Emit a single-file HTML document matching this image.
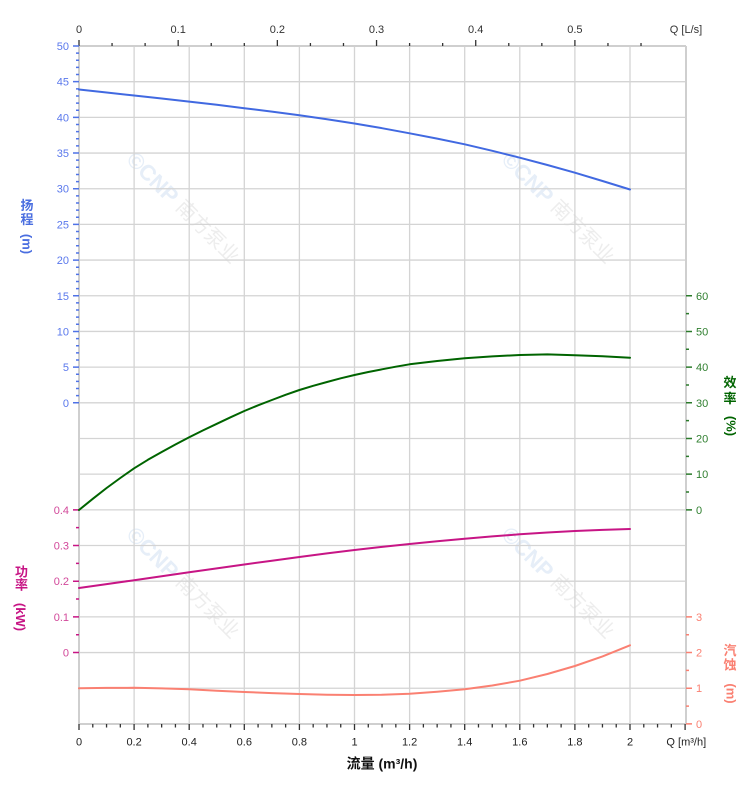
<!DOCTYPE html>
<html>
<head>
<meta charset="utf-8">
<style>
html,body{margin:0;padding:0;background:#fff;}
svg{display:block;}
text{font-family:"Liberation Sans","Noto Sans CJK SC",sans-serif;}
</style>
</head>
<body>
<svg width="752" height="797" viewBox="0 0 752 797" xmlns="http://www.w3.org/2000/svg">
<rect x="0" y="0" width="752" height="797" fill="#fff"/>

<!-- watermarks -->
<g>
<g transform="translate(183,208) rotate(45)"><text x="0" y="0" text-anchor="middle" dominant-baseline="central" font-size="22" font-weight="bold" fill="#e6eef8">©CNP <tspan fill="#ededed" font-weight="normal" font-size="20">南方泵业</tspan></text></g>
<g transform="translate(558,208) rotate(45)"><text x="0" y="0" text-anchor="middle" dominant-baseline="central" font-size="22" font-weight="bold" fill="#e6eef8">©CNP <tspan fill="#ededed" font-weight="normal" font-size="20">南方泵业</tspan></text></g>
<g transform="translate(183,583) rotate(45)"><text x="0" y="0" text-anchor="middle" dominant-baseline="central" font-size="22" font-weight="bold" fill="#e6eef8">©CNP <tspan fill="#ededed" font-weight="normal" font-size="20">南方泵业</tspan></text></g>
<g transform="translate(558,583) rotate(45)"><text x="0" y="0" text-anchor="middle" dominant-baseline="central" font-size="22" font-weight="bold" fill="#e6eef8">©CNP <tspan fill="#ededed" font-weight="normal" font-size="20">南方泵业</tspan></text></g>
</g>

<!-- grid -->
<g stroke="#d4d4d4" stroke-width="1.3" fill="none">
<path d="M79 81.68H686M79 117.36H686M79 153.04H686M79 188.72H686M79 224.4H686M79 260.08H686M79 295.76H686M79 331.44H686M79 367.12H686M79 402.8H686M79 438.48H686M79 474.16H686M79 509.84H686M79 545.52H686M79 581.2H686M79 616.88H686M79 652.56H686M79 688.24H686"/>
<path d="M134.1 46V724M189.2 46V724M244.3 46V724M299.4 46V724M354.5 46V724M409.6 46V724M464.7 46V724M519.8 46V724M574.9 46V724M630 46V724"/>
</g>
<!-- frame -->
<g stroke="#cfcfcf" stroke-width="2" fill="none">
<path d="M79 46H686M79 724H686M79 46V724M686 46V724"/>
</g>

<!-- top axis ticks -->
<g stroke="#333" stroke-width="1.3" fill="none">
<path d="M79 40V46M178.18 40V46M277.36 40V46M376.54 40V46M475.72 40V46M574.9 40V46"/>
<path d="M112.06 43V46M145.12 43V46M211.24 43V46M244.3 43V46M310.42 43V46M343.48 43V46M409.6 43V46M442.66 43V46M508.78 43V46M541.84 43V46M607.96 43V46M641.02 43V46"/>
</g>
<!-- bottom axis ticks -->
<g stroke="#333" stroke-width="1.3" fill="none">
<path d="M79 724V730M134.1 724V730M189.2 724V730M244.3 724V730M299.4 724V730M354.5 724V730M409.6 724V730M464.7 724V730M519.8 724V730M574.9 724V730M630 724V730M685.1 724V730"/>
<path d="M92.78 724V727.5M106.55 724V727.5M120.33 724V727.5M147.88 724V727.5M161.65 724V727.5M175.43 724V727.5M202.98 724V727.5M216.75 724V727.5M230.53 724V727.5M258.08 724V727.5M271.85 724V727.5M285.63 724V727.5M313.18 724V727.5M326.95 724V727.5M340.73 724V727.5M368.28 724V727.5M382.05 724V727.5M395.83 724V727.5M423.38 724V727.5M437.15 724V727.5M450.93 724V727.5M478.48 724V727.5M492.25 724V727.5M506.03 724V727.5M533.58 724V727.5M547.35 724V727.5M561.13 724V727.5M588.68 724V727.5M602.45 724V727.5M616.23 724V727.5M643.78 724V727.5M657.55 724V727.5M671.33 724V727.5"/>
</g>

<!-- head axis ticks -->
<g stroke="#4f72e6" stroke-width="1.5" fill="none">
<path d="M73 46h6M73 81.68h6M73 117.36h6M73 153.04h6M73 188.72h6M73 224.4h6M73 260.08h6M73 295.76h6M73 331.44h6M73 367.12h6M73 402.8h6"/>
<path d="M76 53.14h3M76 60.27h3M76 67.41h3M76 74.54h3M76 88.82h3M76 95.95h3M76 103.09h3M76 110.22h3M76 124.5h3M76 131.63h3M76 138.77h3M76 145.9h3M76 160.18h3M76 167.31h3M76 174.45h3M76 181.58h3M76 195.86h3M76 202.99h3M76 210.13h3M76 217.26h3M76 231.54h3M76 238.67h3M76 245.81h3M76 252.94h3M76 267.22h3M76 274.35h3M76 281.49h3M76 288.62h3M76 302.9h3M76 310.03h3M76 317.17h3M76 324.3h3M76 338.58h3M76 345.71h3M76 352.85h3M76 359.98h3M76 374.26h3M76 381.39h3M76 388.53h3M76 395.66h3"/>
</g>
<!-- power axis ticks -->
<g stroke="#c71585" stroke-width="1.5" fill="none">
<path d="M73 509.84h6M73 545.52h6M73 581.2h6M73 616.88h6M73 652.56h6"/>
<path d="M76 527.68h3M76 563.36h3M76 599.04h3M76 634.72h3"/>
</g>
<!-- efficiency axis ticks -->
<g stroke="#2a7a2a" stroke-width="1.5" fill="none">
<path d="M686 295.76h6M686 331.44h6M686 367.12h6M686 402.8h6M686 438.48h6M686 474.16h6M686 509.84h6"/>
<path d="M686 313.6h3M686 349.28h3M686 384.96h3M686 420.64h3M686 456.32h3M686 492h3"/>
</g>
<!-- npsh axis ticks -->
<g stroke="#fa8072" stroke-width="1.5" fill="none">
<path d="M686 616.88h6M686 652.56h6M686 688.24h6M686 723.92h6"/>
<path d="M686 634.72h3M686 670.4h3M686 706.08h3"/>
</g>

<!-- curves -->
<g fill="none" stroke-width="2" stroke-linejoin="round" stroke-linecap="round">
<polyline stroke="#4169e1" points="79,89.5 106.6,92.5 134.1,95.5 161.7,98.5 189.2,101.6 216.8,104.8 244.3,108.2 271.9,111.6 299.4,115.2 327,119.2 354.5,123.5 382,128.2 409.6,133.3 437.2,138.6 464.7,144.3 492.3,150.8 519.8,157.7 547.4,165 574.9,172.7 602.5,181 630,189.5"/>
<polyline stroke="#006400" points="79,510 92.8,498.8 106.6,488 120.3,478 134.1,468.3 147.9,459.8 161.7,452 175.4,444.5 189.2,437.3 203,430.4 216.8,423.8 230.5,417.3 244.3,411 258.1,405.3 271.9,400 285.6,394.8 299.4,390 313.2,385.8 327,382 340.7,378.3 354.5,375 368.3,372 382,369.3 395.8,366.7 409.6,364.3 437.2,361 464.7,358.3 492.3,356.4 519.8,355 547.4,354.4 574.9,355.2 602.5,356.3 630,357.7"/>
<polyline stroke="#c71585" points="79,588 106.6,584.1 134.1,580.2 161.7,576.2 189.2,572.3 216.8,568.4 244.3,564.5 271.9,560.7 299.4,557 327,553.4 354.5,550 382,546.9 409.6,544 437.2,541.2 464.7,538.7 492.3,536.4 519.8,534.3 547.4,532.5 574.9,531 602.5,529.9 630,529"/>
<polyline stroke="#fa8072" points="79,688.3 106.6,687.9 134.1,687.8 161.7,688.4 189.2,689.3 216.8,690.7 244.3,692 271.9,693.1 299.4,694 327,694.7 354.5,695 382,694.7 409.6,693.7 437.2,691.8 464.7,689.3 492.3,685.5 519.8,680.7 547.4,674 574.9,666 602.5,656.4 630,645.3"/>
</g>

<!-- top axis labels -->
<g font-size="11" fill="#333" text-anchor="middle">
<text x="79" y="33">0</text>
<text x="178.2" y="33">0.1</text>
<text x="277.4" y="33">0.2</text>
<text x="376.5" y="33">0.3</text>
<text x="475.7" y="33">0.4</text>
<text x="574.9" y="33">0.5</text>
<text x="686" y="33">Q [L/s]</text>
</g>
<!-- bottom axis labels -->
<g font-size="11" fill="#222" text-anchor="middle">
<text x="79" y="745.5">0</text>
<text x="134.1" y="745.5">0.2</text>
<text x="189.2" y="745.5">0.4</text>
<text x="244.3" y="745.5">0.6</text>
<text x="299.4" y="745.5">0.8</text>
<text x="354.5" y="745.5">1</text>
<text x="409.6" y="745.5">1.2</text>
<text x="464.7" y="745.5">1.4</text>
<text x="519.8" y="745.5">1.6</text>
<text x="574.9" y="745.5">1.8</text>
<text x="630" y="745.5">2</text>
<text x="686.3" y="745.5">Q [m³/h]</text>
</g>
<text x="382" y="768.5" font-size="14" font-weight="bold" fill="#111" text-anchor="middle">流量 (m³/h)</text>

<!-- head labels -->
<g font-size="11" fill="#5a78ec" text-anchor="end">
<text x="69" y="50">50</text>
<text x="69" y="85.7">45</text>
<text x="69" y="121.4">40</text>
<text x="69" y="157">35</text>
<text x="69" y="192.7">30</text>
<text x="69" y="228.4">25</text>
<text x="69" y="264.1">20</text>
<text x="69" y="299.8">15</text>
<text x="69" y="335.4">10</text>
<text x="69" y="371.1">5</text>
<text x="69" y="406.8">0</text>
</g>
<!-- power labels -->
<g font-size="11" fill="#d2489a" text-anchor="end">
<text x="69" y="513.8">0.4</text>
<text x="69" y="549.5">0.3</text>
<text x="69" y="585.2">0.2</text>
<text x="69" y="620.9">0.1</text>
<text x="69" y="656.6">0</text>
</g>
<!-- efficiency labels -->
<g font-size="11" fill="#2f7f2f" text-anchor="start">
<text x="696" y="299.8">60</text>
<text x="696" y="335.4">50</text>
<text x="696" y="371.1">40</text>
<text x="696" y="406.8">30</text>
<text x="696" y="442.5">20</text>
<text x="696" y="478.2">10</text>
<text x="696" y="513.8">0</text>
</g>
<!-- npsh labels -->
<g font-size="11" fill="#fa8072" text-anchor="start">
<text x="696" y="620.9">3</text>
<text x="696" y="656.6">2</text>
<text x="696" y="692.2">1</text>
<text x="696" y="727.9">0</text>
</g>

<!-- axis titles -->
<g font-size="13" font-weight="bold" text-anchor="middle">
<text x="27" y="210" fill="#4a6ee0">扬</text>
<text x="27" y="224" fill="#4a6ee0">程</text>
<text transform="translate(27,244) rotate(90)" x="0" y="0" dominant-baseline="central" fill="#4a6ee0">(m)</text>

<text x="21.5" y="576.5" fill="#c71585">功</text>
<text x="21.5" y="589.5" fill="#c71585">率</text>
<text transform="translate(20.5,617) rotate(90)" x="0" y="0" dominant-baseline="central" fill="#c71585">(kW)</text>

<text x="730" y="387" fill="#006400">效</text>
<text x="730" y="403" fill="#006400">率</text>
<text transform="translate(731,426) rotate(90)" x="0" y="0" dominant-baseline="central" fill="#006400">(%)</text>

<text x="730" y="655" fill="#fa8072">汽</text>
<text x="730" y="669.5" fill="#fa8072">蚀</text>
<text transform="translate(731,693.5) rotate(90)" x="0" y="0" dominant-baseline="central" fill="#fa8072">(m)</text>
</g>
</svg>
</body>
</html>
